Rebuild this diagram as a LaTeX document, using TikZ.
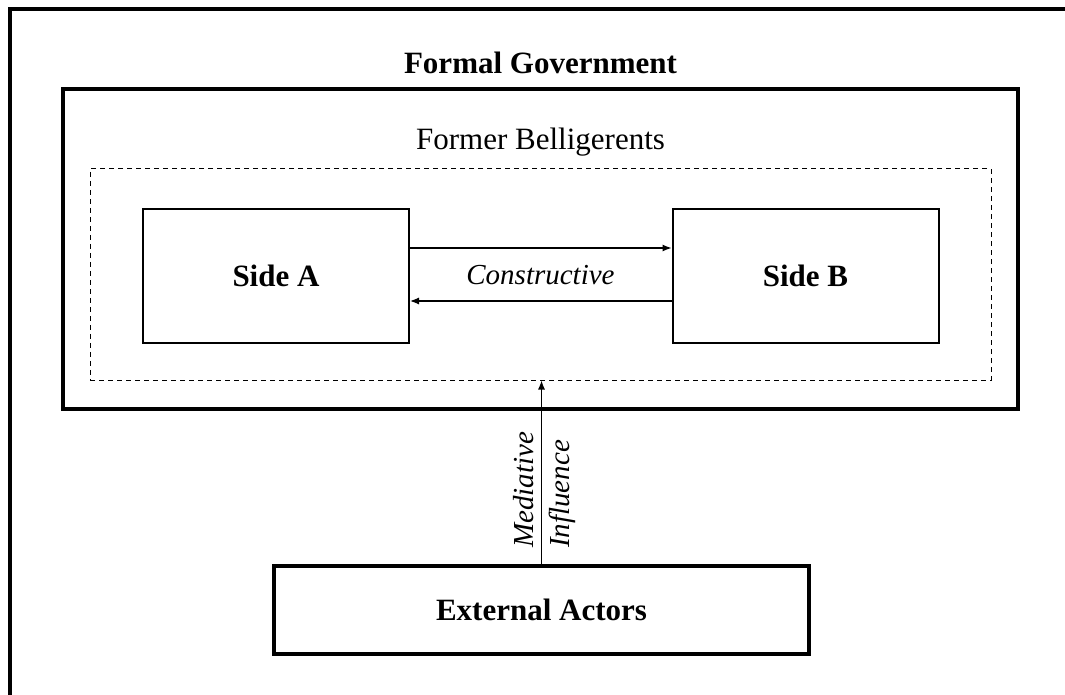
\documentclass[tikz,border=0pt]{standalone}
\usepackage{fontspec}
\setmainfont{Liberation Serif}
\usetikzlibrary{arrows.meta}
\tikzset{sidebox/.style={draw, line width=1pt, minimum width=133pt, minimum height=67pt, font=\fontsize{15.5}{18}\selectfont\bfseries}}
\tikzset{govbox/.style={draw, line width=1.7pt, inner sep=0pt}}
\tikzset{flow/.style={-{Latex[length=4.5pt, width=3.5pt]}, line width=0.6pt}}
\tikzset{label/.style={font=\fontsize{14.5}{17}\selectfont\itshape}}

\begin{document}
\begin{tikzpicture}[x=0.5pt, y=-0.5pt]
            \useasboundingbox (0, 0) rectangle (1065, 695);
            \draw[line width=2pt] (1065, 9) -- (9.5, 9) -- (9.5, 695);
            \node[govbox, minimum width=477.5pt, minimum height=160pt] (gov) at (540.5, 249) {};
            \node[anchor=base, font=\fontsize{15.5}{18}\selectfont\bfseries] (govtitle) at (540.5, 74) {Formal Government};
            \node[draw, dashed, dash pattern=on 2.5pt off 2pt, line width=0.5pt, minimum width=450.5pt, minimum height=105.5pt] (belig) at (540.5, 274.5) {};
            \node[anchor=base, font=\fontsize{15.5}{18}\selectfont] (beligtitle) at (540.5, 150) {Former Belligerents};
            \node[sidebox] (sideA) at (276, 276) {Side A};
            \node[sidebox] (sideB) at (805.5, 276) {Side B};
            \node[label, anchor=base] (constr) at (540.5, 285) {Constructive};
            \draw[flow] ([yshift=14pt]sideA.east) -- ([yshift=14pt]sideB.west);
            \draw[flow] ([yshift=-12.5pt]sideB.west) -- ([yshift=-12.5pt]sideA.east);
            \node[govbox, minimum width=267.5pt, minimum height=44pt, font=\fontsize{15.5}{18}\selectfont\bfseries] (ext) at (541.5, 610) {External Actors};
            \draw[flow] (ext.north) -- node[label, pos=0.05, anchor=south west, rotate=90] (med) {Mediative}
                node[label, pos=0.05, anchor=north west, rotate=90] (infl) {Influence} (ext.north |- belig.south);
        \end{tikzpicture}
\end{document}
